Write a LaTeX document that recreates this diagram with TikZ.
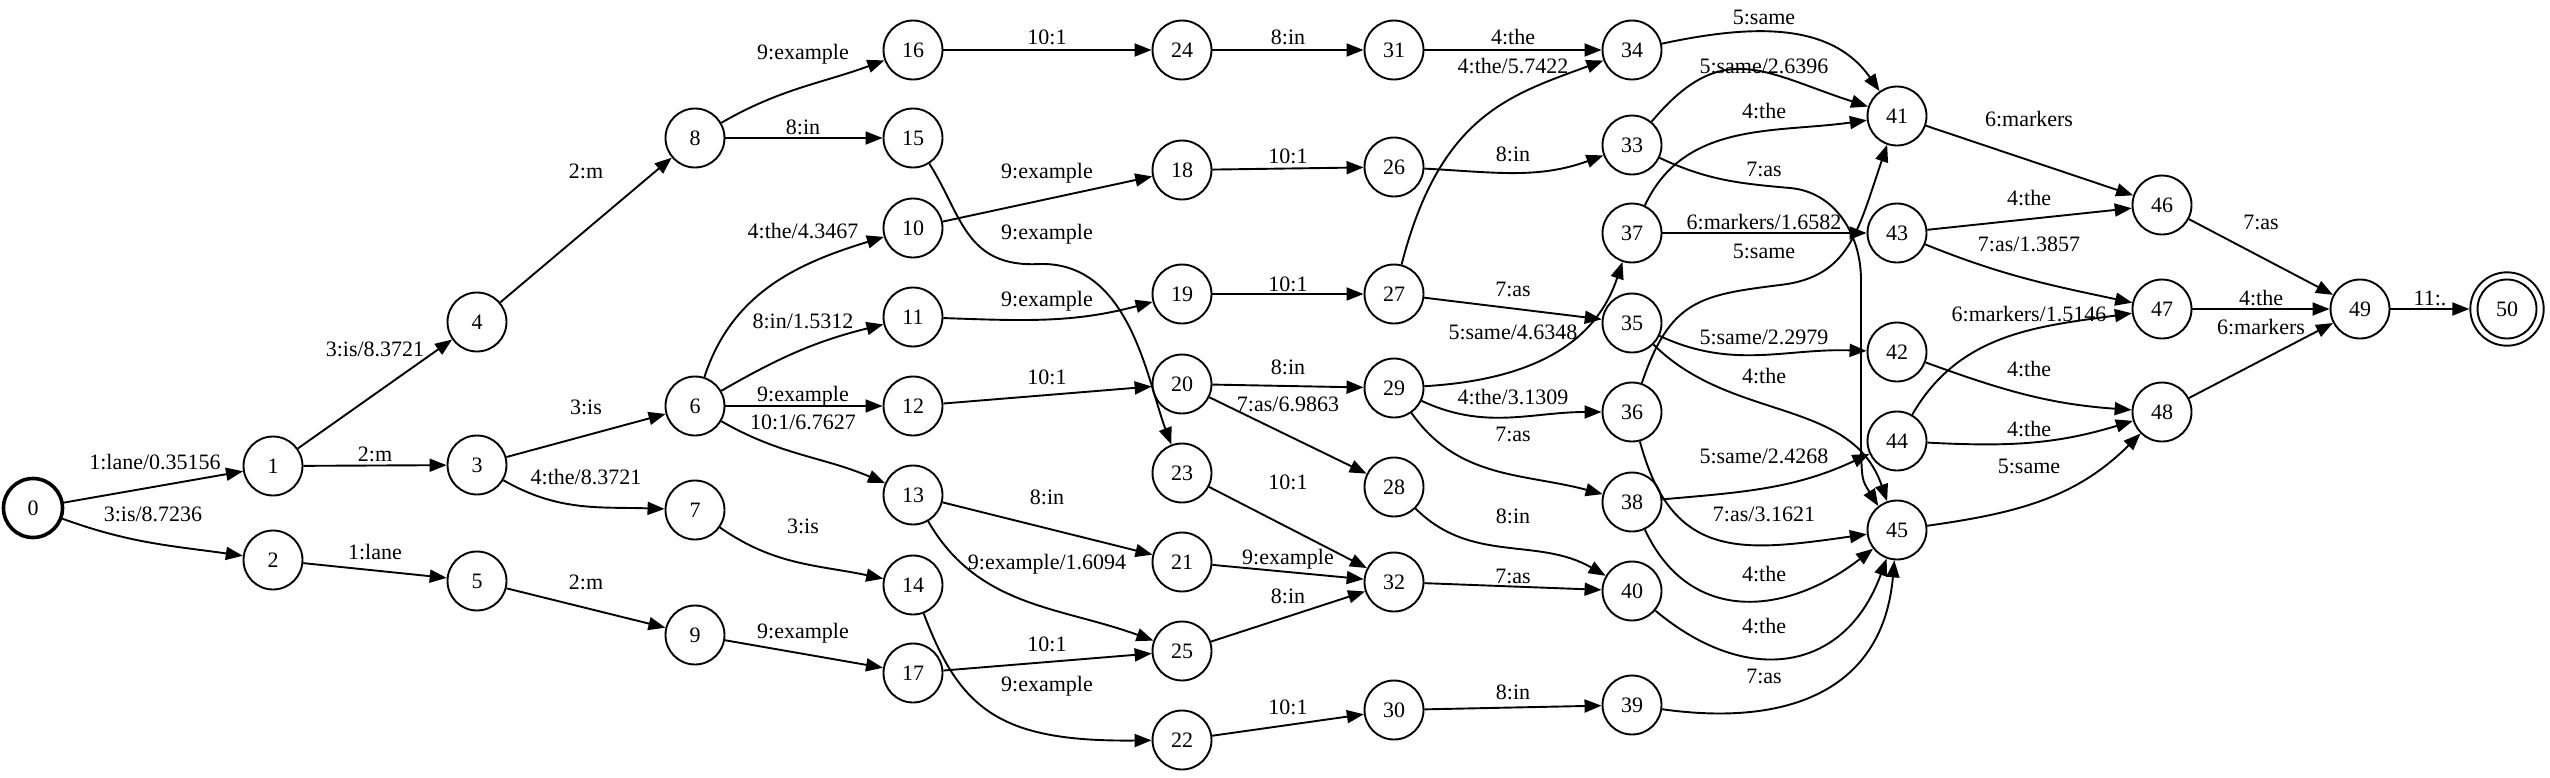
\documentclass[tikz,border=0pt]{standalone}
\usepackage{fontspec}
\setmainfont{Liberation Serif}
\usetikzlibrary{arrows.meta}
\tikzset{
    state/.style={circle, draw, line width=0.95pt, minimum size=29.5pt, inner sep=0pt},
    trans/.style={-{Triangle[length=8.5pt, width=6.5pt]}, line width=0.95pt},
    lbl/.style={inner sep=0pt, text height=7.5pt, text depth=1.5pt}
}
\begin{document}
\begin{tikzpicture}[x=0.5pt, y=-0.5pt, font=\fontsize{11}{13}\selectfont]
        \useasboundingbox (0,0) rectangle (2550,777);
        % states
        \node [state, line width=1.8pt] (s0) at (33,508) {0};
        \node [state] (s1) at (273,466) {1};
        \node [state] (s2) at (273,560) {2};
        \node [state] (s3) at (477,465) {3};
        \node [state] (s4) at (477,322) {4};
        \node [state] (s5) at (477,581) {5};
        \node [state] (s6) at (695,406) {6};
        \node [state] (s7) at (695,510) {7};
        \node [state] (s8) at (695,138) {8};
        \node [state] (s9) at (695,635) {9};
        \node [state] (s10) at (913,228) {10};
        \node [state] (s11) at (913,317) {11};
        \node [state] (s12) at (913,406) {12};
        \node [state] (s13) at (913,495) {13};
        \node [state] (s14) at (913,585) {14};
        \node [state] (s15) at (913,138) {15};
        \node [state] (s16) at (913,50) {16};
        \node [state] (s17) at (913,673) {17};
        \node [state] (s18) at (1182,170) {18};
        \node [state] (s19) at (1182,294) {19};
        \node [state] (s20) at (1182,384) {20};
        \node [state] (s21) at (1182,562) {21};
        \node [state] (s22) at (1182,740) {22};
        \node [state] (s23) at (1182,473) {23};
        \node [state] (s24) at (1182,50) {24};
        \node [state] (s25) at (1182,651) {25};
        \node [state] (s26) at (1394,167) {26};
        \node [state] (s27) at (1394,294) {27};
        \node [state] (s28) at (1394,487) {28};
        \node [state] (s29) at (1394,388) {29};
        \node [state] (s30) at (1394,710) {30};
        \node [state] (s31) at (1394,50) {31};
        \node [state] (s32) at (1394,582) {32};
        \node [state] (s33) at (1632,145) {33};
        \node [state] (s34) at (1632,50) {34};
        \node [state] (s35) at (1632,323) {35};
        \node [state] (s36) at (1632,412) {36};
        \node [state] (s37) at (1632,233) {37};
        \node [state] (s38) at (1632,502) {38};
        \node [state] (s39) at (1632,705) {39};
        \node [state] (s40) at (1632,591) {40};
        \node [state] (s41) at (1897,116) {41};
        \node [state] (s42) at (1897,352) {42};
        \node [state] (s43) at (1897,233) {43};
        \node [state] (s44) at (1897,441) {44};
        \node [state] (s45) at (1897,530) {45};
        \node [state] (s46) at (2162,205) {46};
        \node [state] (s47) at (2162,309) {47};
        \node [state] (s48) at (2162,412) {48};
        \node [state] (s49) at (2360,309) {49};
        \node [state, minimum size=36.7pt] (s50) at (2507,309) {50};
        \draw [line width=0.95pt] (s50.center) circle [radius=14.75pt];
        % transitions
        \draw [trans] (s0) -- (s1);
        \draw [trans] (s0) to [out=-20, in=172] (s2);
        \draw [trans] (s1) -- (s4);
        \draw [trans] (s1) -- (s3);
        \draw [trans] (s2) -- (s5);
        \draw [trans] (s3) -- (s6);
        \draw [trans] (s3) to [out=-30, in=178] (s7);
        \draw [trans] (s4) -- (s8);
        \draw [trans] (s5) -- (s9);
        \draw [trans] (s8) to [out=30, in=200] (s16);
        \draw [trans] (s8) -- (s15);
        \draw [trans] (s6) to [out=72, in=197] (s10);
        \draw [trans] (s6) to [out=30, in=194] (s11);
        \draw [trans] (s6) -- (s12);
        \draw [trans] (s6) to [out=-30, in=157] (s13);
        \draw [trans] (s7) to [out=-35, in=168] (s14);
        \draw [trans] (s9) -- (s17);
        \draw [trans] (s16) -- (s24);
        \draw [trans] (s15) .. controls (962,215) and (965,268) .. (1040,264)
            .. controls (1130,262) and (1147,380) .. (s23);
        \draw [trans] (s10) -- (s18);
        \draw [trans] (s11) to [out=-2, in=195] (s19);
        \draw [trans] (s12) -- (s20);
        \draw [trans] (s13) -- (s21);
        \draw [trans] (s13) to [out=-60, in=160] (s25);
        \draw [trans] (s17) -- (s25);
        \draw [trans] (s14) .. controls (960,710) and (1000,742) .. (s22);
        \draw [trans] (s24) -- (s31);
        \draw [trans] (s18) -- (s26);
        \draw [trans] (s19) -- (s27);
        \draw [trans] (s20) -- (s29);
        \draw [trans] (s20) -- (s28);
        \draw [trans] (s23) -- (s32);
        \draw [trans] (s21) -- (s32);
        \draw [trans] (s25) -- (s32);
        \draw [trans] (s22) -- (s30);
        \draw [trans] (s31) -- (s34);
        \draw [trans] (s27) .. controls (1440,115) and (1510,95) .. (s34);
        \draw [trans] (s26) to [out=-3, in=200] (s33);
        \draw [trans] (s27) -- (s35);
        \draw [trans] (s29) .. controls (1530,380) and (1595,345) .. (s37);
        \draw [trans] (s29) to [out=-25, in=180] (s36);
        \draw [trans] (s29) to [out=-55, in=165] (s38);
        \draw [trans] (s28) to [out=-45, in=150] (s40);
        \draw [trans] (s32) -- (s40);
        \draw [trans] (s30) -- (s39);
        \draw [trans] (s34) to [out=12, in=125] (s41);
        \draw [trans] (s33) to [out=50, in=162, looseness=1.3] (s41);
        \draw [trans] (s37) to [out=65, in=188] (s41);
        \draw [trans] (s33) to [out=-25, in=175] (1790,188) to [out=-5, in=90] (1861,280)
            -- (1861,450) .. controls (1862,480) .. (s45.128);
        \draw [trans] (s37) -- (s43);
        \draw [trans] (s36) .. controls (1670,300) and (1700,295) .. (1780,285)
            .. controls (1850,277) and (1858,230) .. (s41);
        \draw [trans] (s35) to [out=-25, in=178] (s42);
        \draw [trans] (s35) to [out=-45, in=109] (s45);
        \draw [trans] (s38) to [out=5, in=205] (s44);
        \draw [trans] (s36) to [out=-75, in=188, looseness=1.3] (s45);
        \draw [trans] (s38) to [out=-65, in=218, looseness=1.2] (s45);
        \draw [trans] (s40) to [out=-40, in=250, looseness=1.3] (s45);
        \draw [trans] (s39) to [out=-8, in=265, looseness=1.2] (s45);
        \draw [trans] (s41) -- (s46);
        \draw [trans] (s43) -- (s46);
        \draw [trans] (s43) to [out=-22, in=168] (s47);
        \draw [trans] (s44) to [out=60, in=188] (s47);
        \draw [trans] (s42) to [out=-20, in=176] (s48);
        \draw [trans] (s44) to [out=-3, in=197] (s48);
        \draw [trans] (s45) to [out=8, in=225] (s48);
        \draw [trans] (s46) -- (s49);
        \draw [trans] (s47) -- (s49);
        \draw [trans] (s48) -- (s49);
        \draw [trans] (s49) -- (s50);
        % labels
        \node [lbl] (w0-1) at (155,463) {1:lane/0.35156};
        \node [lbl] (w0-2) at (153,515) {3:is/8.7236};
        \node [lbl] (w1-4) at (375,350) {3:is/8.3721};
        \node [lbl] (w1-3) at (375,455) {2:m};
        \node [lbl] (w2-5) at (375,553) {1:lane};
        \node [lbl] (w4-8) at (586,172) {2:m};
        \node [lbl] (w3-6) at (586,408) {3:is};
        \node [lbl] (w3-7) at (586,478) {4:the/8.3721};
        \node [lbl] (w5-9) at (586,583) {2:m};
        \node [lbl] (w8-16) at (803,53) {9:example};
        \node [lbl] (w8-15) at (803,128) {8:in};
        \node [lbl] (w6-10) at (803,232) {4:the/4.3467};
        \node [lbl] (w6-11) at (803,322) {8:in/1.5312};
        \node [lbl] (w6-12) at (803,395) {9:example};
        \node [lbl] (w6-13) at (803,423) {10:1/6.7627};
        \node [lbl] (w7-14) at (803,527) {3:is};
        \node [lbl] (w9-17) at (803,632) {9:example};
        \node [lbl] (w16-24) at (1047,38) {10:1};
        \node [lbl] (w10-18) at (1047,172) {9:example};
        \node [lbl] (w15-23) at (1047,233) {9:example};
        \node [lbl] (w11-19) at (1047,300) {9:example};
        \node [lbl] (w12-20) at (1047,378) {10:1};
        \node [lbl] (w13-21) at (1047,498) {8:in};
        \node [lbl] (w13-25) at (1047,563) {9:example/1.6094};
        \node [lbl] (w17-25) at (1047,645) {10:1};
        \node [lbl] (w14-22) at (1047,685) {9:example};
        \node [lbl] (w24-31) at (1288,38) {8:in};
        \node [lbl] (w18-26) at (1288,157) {10:1};
        \node [lbl] (w19-27) at (1288,285) {10:1};
        \node [lbl] (w20-29) at (1288,368) {8:in};
        \node [lbl] (w20-28) at (1288,405) {7:as/6.9863};
        \node [lbl] (w23-32) at (1288,483) {10:1};
        \node [lbl] (w21-32) at (1288,558) {9:example};
        \node [lbl] (w25-32) at (1288,597) {8:in};
        \node [lbl] (w22-30) at (1288,708) {10:1};
        \node [lbl] (w31-34) at (1513,38) {4:the};
        \node [lbl] (w27-34) at (1513,67) {4:the/5.7422};
        \node [lbl] (w26-33) at (1513,155) {8:in};
        \node [lbl] (w27-35) at (1513,290) {7:as};
        \node [lbl] (w29-37) at (1513,333) {5:same/4.6348};
        \node [lbl] (w29-36) at (1513,398) {4:the/3.1309};
        \node [lbl] (w29-38) at (1513,435) {7:as};
        \node [lbl] (w28-40) at (1513,517) {8:in};
        \node [lbl] (w32-40) at (1513,577) {7:as};
        \node [lbl] (w30-39) at (1513,693) {8:in};
        \node [lbl] (w34-41) at (1764,18) {5:same};
        \node [lbl] (w33-41) at (1764,67) {5:same/2.6396};
        \node [lbl] (w37-41) at (1764,112) {4:the};
        \node [lbl] (w33-45) at (1764,170) {7:as};
        \node [lbl] (w37-43) at (1764,223) {6:markers/1.6582};
        \node [lbl] (w36-41) at (1764,252) {5:same};
        \node [lbl] (w35-42) at (1764,338) {5:same/2.2979};
        \node [lbl] (w35-45) at (1764,377) {4:the};
        \node [lbl] (w38-44) at (1764,457) {5:same/2.4268};
        \node [lbl] (w36-45) at (1764,515) {7:as/3.1621};
        \node [lbl] (w38-45) at (1764,575) {4:the};
        \node [lbl] (w40-45) at (1764,627) {4:the};
        \node [lbl] (w39-45) at (1764,677) {7:as};
        \node [lbl] (w41-46) at (2029,120) {6:markers};
        \node [lbl] (w43-46) at (2029,199) {4:the};
        \node [lbl] (w43-47) at (2029,245) {7:as/1.3857};
        \node [lbl] (w44-47) at (2029,315) {6:markers/1.5146};
        \node [lbl] (w42-48) at (2029,370) {4:the};
        \node [lbl] (w44-48) at (2029,430) {4:the};
        \node [lbl] (w45-48) at (2029,467) {5:same};
        \node [lbl] (w46-49) at (2261,223) {7:as};
        \node [lbl] (w47-49) at (2261,299) {4:the};
        \node [lbl] (w48-49) at (2261,328) {6:markers};
        \node [lbl] (w49-50) at (2430,299) {11:.};
    \end{tikzpicture}
\end{document}
